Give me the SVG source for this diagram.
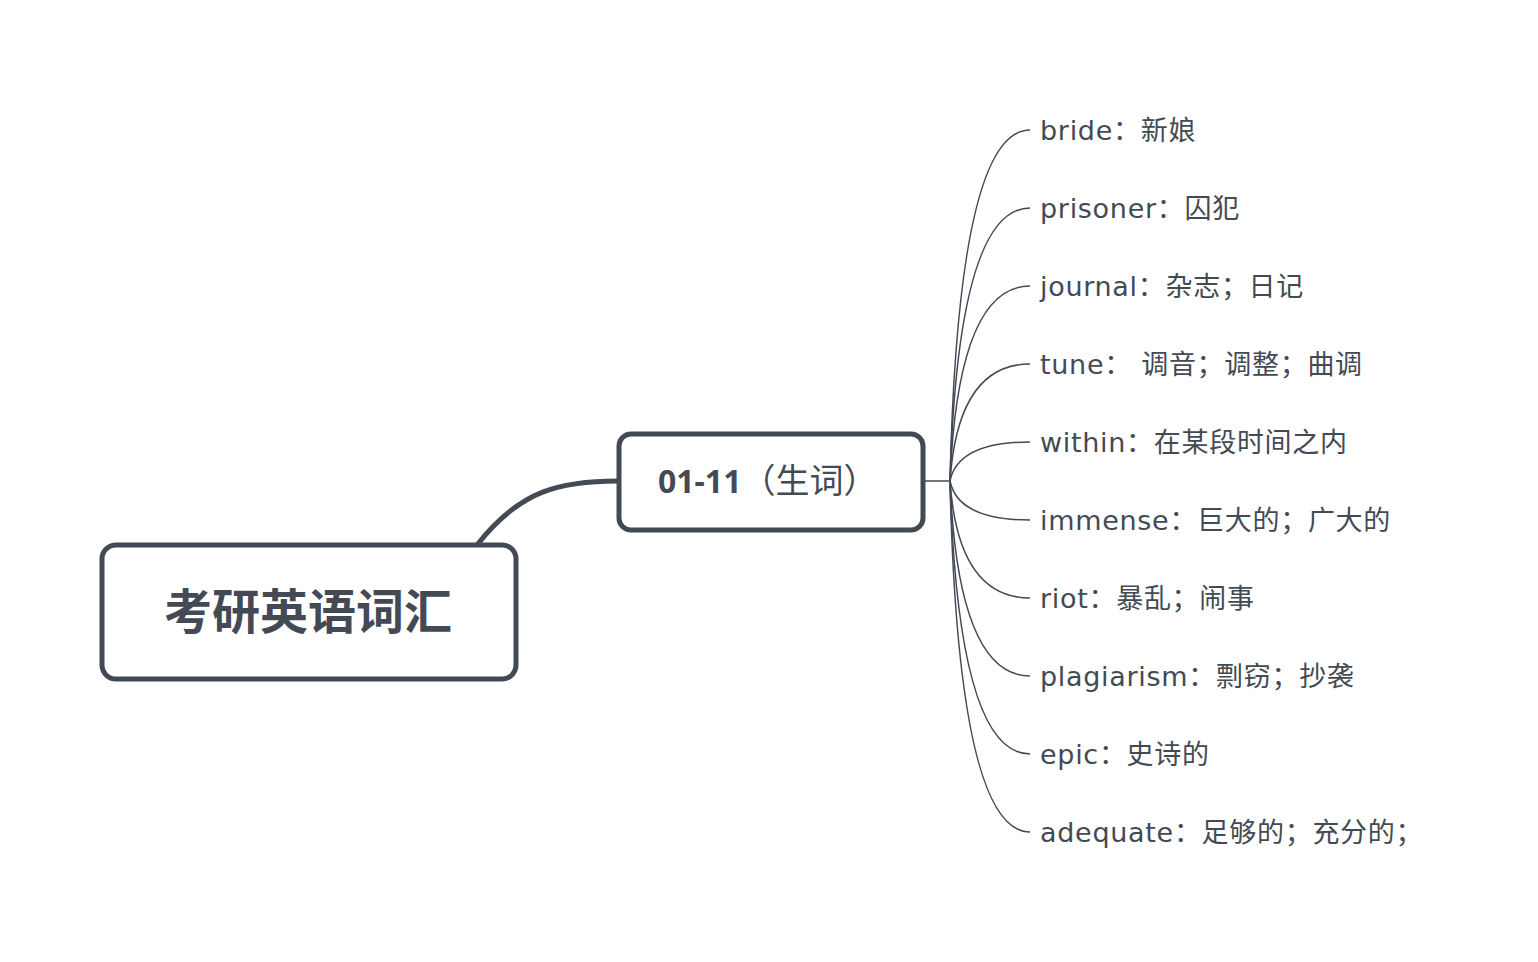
<svg xmlns="http://www.w3.org/2000/svg" width="1538" height="962" viewBox="0 0 1538 962">
<style>
.box{fill:#fff;stroke:#434a54;stroke-width:5}
.thick{fill:none;stroke:#434a54;stroke-width:5}
.thin{fill:none;stroke:#434a54;stroke-width:1.5}
text{fill:#434a54;font-family:"Noto Sans","Noto Sans CJK SC",sans-serif}
.leaf{font-size:27px;letter-spacing:0.7px;font-family:"DejaVu Sans","Noto Sans CJK SC",sans-serif}
</style>
<rect width="1538" height="962" fill="#fff"/>
<g id="connectors">
<path class="thick" d="M477,545 C520,490 560,481 619,481"/>
<path class="thin" d="M923,481 H950"/>
<path class="thin" d="M950,481 Q958,130 1030,130"/>
<path class="thin" d="M950,481 Q958,208 1030,208"/>
<path class="thin" d="M950,481 Q958,286 1030,286"/>
<path class="thin" d="M950,481 Q958,364 1030,364"/>
<path class="thin" d="M950,481 Q958,442 1030,442"/>
<path class="thin" d="M950,481 Q958,520 1030,520"/>
<path class="thin" d="M950,481 Q958,598 1030,598"/>
<path class="thin" d="M950,481 Q958,676 1030,676"/>
<path class="thin" d="M950,481 Q958,754 1030,754"/>
<path class="thin" d="M950,481 Q958,832 1030,832"/>
</g>
<g id="root">
<rect class="box" x="102" y="545" width="414" height="134" rx="14"/>
<text x="308" y="629" text-anchor="middle" font-size="48" font-weight="bold">考研英语词汇</text>
</g>
<g id="topic">
<rect class="box" x="619" y="434" width="304" height="96" rx="12"/>
<text x="658" y="493" font-size="32"><tspan font-weight="bold">01-11</tspan><tspan font-size="34">（生词）</tspan></text>
</g>
<g id="leaf1"><text class="leaf" x="1040" y="140">bride：新娘</text></g>
<g id="leaf2"><text class="leaf" x="1040" y="218">prisoner：囚犯</text></g>
<g id="leaf3"><text class="leaf" x="1040" y="296">journal：杂志；日记</text></g>
<g id="leaf4"><text class="leaf" x="1040" y="374">tune： 调音；调整；曲调</text></g>
<g id="leaf5"><text class="leaf" x="1040" y="452">within：在某段时间之内</text></g>
<g id="leaf6"><text class="leaf" x="1040" y="530">immense：巨大的；广大的</text></g>
<g id="leaf7"><text class="leaf" x="1040" y="608">riot：暴乱；闹事</text></g>
<g id="leaf8"><text class="leaf" x="1040" y="686">plagiarism：剽窃；抄袭</text></g>
<g id="leaf9"><text class="leaf" x="1040" y="764">epic：史诗的</text></g>
<g id="leaf10"><text class="leaf" x="1040" y="842">adequate：足够的；充分的；</text></g>
</svg>
